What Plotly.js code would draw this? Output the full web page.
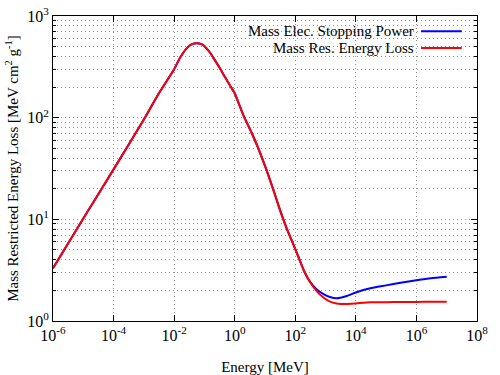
<!DOCTYPE html>
<html>
<head>
<meta charset="utf-8">
<script src="https://cdn.plot.ly/plotly-3.0.1.min.js"></script>
<style>html,body{margin:0;padding:0;background:#fff;}#chart{width:500px;height:375px;}</style>
</head>
<body>
<div id="chart"></div>
<script>
// Energy [MeV]
const energy = [1e-6, 1e-5, 1e-4, 1e-3, 3e-3, 1e-2, 0.015, 0.025, 0.0375, 0.056, 0.08, 0.1, 0.15, 0.2, 0.3, 0.5, 0.75, 1, 1.5, 2, 3, 5, 10, 20, 30, 50, 100, 200, 300, 500, 850, 1400, 2300, 5000, 1e4, 3e4, 1e5, 3e5, 1e6, 3e6, 1e7];
// Mass electronic stopping power [MeV cm^2 g^-1]
const elecStopping = [3.3, 10.2, 31, 96, 170, 300, 380, 475, 525, 540, 528, 505, 440, 385, 318, 245, 200, 174, 128, 103, 80, 57, 33.5, 18.5, 12.8, 8.4, 5.1, 3.05, 2.45, 2.05, 1.84, 1.72, 1.67, 1.76, 1.91, 2.10, 2.24, 2.38, 2.52, 2.64, 2.73];
// Mass restricted energy loss [MeV cm^2 g^-1]
const resEnergyLoss = [3.3, 10.2, 31, 96, 170, 300, 380, 475, 525, 540, 528, 505, 440, 385, 318, 245, 200, 174, 128, 103, 80, 57, 33.5, 18.5, 12.8, 8.4, 5.1, 3.05, 2.45, 1.98, 1.70, 1.55, 1.49, 1.47, 1.49, 1.53, 1.53, 1.54, 1.54, 1.55, 1.55];

const seriesNames = ['Mass Elec. Stopping Power', 'Mass Res. Energy Loss'];
const seriesColors = ['#0000ff', '#ff0000'];

const xTickVals = [1e-6, 1e-4, 1e-2, 1, 1e2, 1e4, 1e6, 1e8];
const xTickText = ['10<sup>-6</sup>', '10<sup>-4</sup>', '10<sup>-2</sup>', '10<sup>0</sup>', '10<sup>2</sup>', '10<sup>4</sup>', '10<sup>6</sup>', '10<sup>8</sup>'];
const yTickVals = [1, 10, 100, 1000];
const yTickText = ['10<sup>0</sup>', '10<sup>1</sup>', '10<sup>2</sup>', '10<sup>3</sup>'];

const FONT = '"Liberation Serif", serif';
const gridCol = '#909090';
const gridDash = '1px,3px';

const traces = [
  {x: energy, y: elecStopping, name: seriesNames[0], mode: 'lines', line: {color: seriesColors[0], width: 2, shape: 'spline', smoothing: 0.5}},
  {x: energy, y: resEnergyLoss, name: seriesNames[1], mode: 'lines', line: {color: seriesColors[1], width: 2, shape: 'spline', smoothing: 0.5}}
];

// legend (gnuplot-style: text right-aligned, sample to the right)
const shapes = [
  {type: 'rect', xref: 'paper', yref: 'paper', x0: 0.415, x1: 0.968, y0: 0.866, y1: 0.997, fillcolor: '#ffffff', line: {width: 0}, layer: 'between'}
];
const annotations = [];
seriesNames.forEach((n, i) => {
  const yy = 0.95 - i * 0.055;
  annotations.push({xref: 'paper', yref: 'paper', x: 0.857, y: yy, xanchor: 'right', yanchor: 'middle', text: n, showarrow: false, font: {family: FONT, size: 15, color: '#000'}});
  shapes.push({type: 'line', xref: 'paper', yref: 'paper', x0: 0.868, x1: 0.964, y0: yy, y1: yy, line: {color: seriesColors[i], width: 2}, layer: 'above'});
});

const layout = {
  width: 500, height: 375,
  margin: {l: 53, r: 23, t: 16, b: 54},
  paper_bgcolor: '#fff', plot_bgcolor: '#fff',
  showlegend: false,
  font: {family: FONT, size: 15, color: '#000'},
  xaxis: {
    type: 'log', range: [-6, 8], tickvals: xTickVals, ticktext: xTickText,
    showline: true, linecolor: '#000', linewidth: 1, mirror: 'ticks',
    ticks: 'inside', ticklen: 6, tickcolor: '#000',
    showgrid: true, gridcolor: gridCol, griddash: gridDash, gridwidth: 1,
    zeroline: false,
    title: {text: 'Energy [MeV]', font: {family: FONT, size: 15}, standoff: 20},
    tickfont: {family: FONT, size: 16}
  },
  yaxis: {
    type: 'log', range: [0, 3], tickvals: yTickVals, ticktext: yTickText,
    showline: true, linecolor: '#000', linewidth: 1, mirror: 'ticks',
    ticks: 'inside', ticklen: 6, tickcolor: '#000',
    showgrid: true, gridcolor: gridCol, griddash: gridDash, gridwidth: 1,
    minor: {dtick: 'D1', ticks: 'inside', ticklen: 3, tickcolor: '#000', showgrid: true, gridcolor: gridCol, griddash: gridDash, gridwidth: 1},
    zeroline: false,
    title: {text: 'Mass Restricted Energy Loss [MeV cm<sup>2</sup> g<sup>-1</sup>]', font: {family: FONT, size: 15}, standoff: 4},
    tickfont: {family: FONT, size: 16}
  },
  shapes: shapes,
  annotations: annotations
};

Plotly.newPlot('chart', traces, layout, {displayModeBar: false, staticPlot: true});
</script>
</body>
</html>
